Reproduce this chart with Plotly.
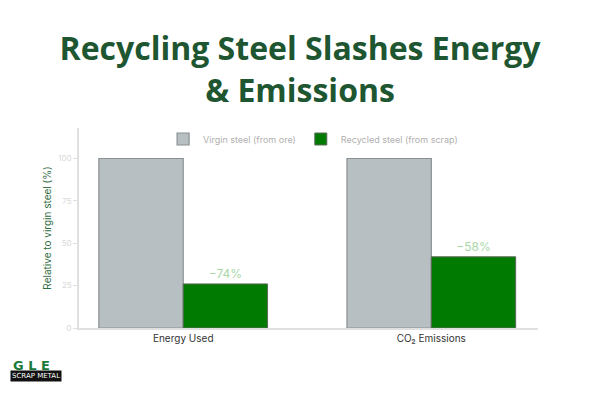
import plotly.graph_objects as go

categories = ["Energy Used", "CO₂ Emissions"]
virgin = [100, 100]
recycled = [26, 42]
recycled_labels = ["−74%", "−58%"]
y_ticks = [0, 25, 50, 75, 100]

fig = go.Figure()
fig.add_trace(go.Bar(
    x=categories, y=virgin, name="Virgin steel (from ore)",
    marker=dict(color="#b8bfc3", line=dict(color="#8a8f92", width=1.2)),
))
fig.add_trace(go.Bar(
    x=categories, y=recycled, name="Recycled steel (from scrap)",
    marker=dict(color="#007a00", line=dict(color="#5a6a5a", width=1)),
    text=recycled_labels, textposition="outside",
    textfont=dict(color="#a8d8a8", size=12, family="Inter"),
    cliponaxis=False,
))

fig.update_layout(
    width=600, height=400,
    paper_bgcolor="white", plot_bgcolor="white",
    margin=dict(l=79, r=62, t=128, b=72),
    barmode="group", bargap=0.32, bargroupgap=0,
    title=dict(
        text="<b>Recycling Steel Slashes Energy<br>& Emissions</b>",
        x=0.5, xanchor="center", y=0.85, yanchor="middle",
        font=dict(family="Open Sans", size=32, color="#1e5631"),
    ),
    legend=dict(
        orientation="h", x=0.51, xanchor="center", y=0.945, yanchor="middle",
        font=dict(family="Inter", size=9, color="#b0b0b0"),
        bgcolor="rgba(0,0,0,0)", itemwidth=30,
    ),
    showlegend=True,
    font=dict(family="Inter"),
)
fig.update_xaxes(
    type="category", range=[-0.42, 1.43],
    showline=True, linecolor="#e0e0e0", linewidth=1.5,
    ticks="", tickfont=dict(size=10, color="#333333", family="Inter"),
    showgrid=False,
)
fig.update_yaxes(
    range=[0, 118], tickvals=y_ticks,
    showline=True, linecolor="#e0e0e0", linewidth=1.5,
    ticks="outside", ticklen=4, tickcolor="#e0e0e0",
    tickfont=dict(size=8, color="#d8d8d8", family="Inter"),
    showgrid=False, zeroline=False,
    title=dict(text="Relative to virgin steel (%)", standoff=5,
               font=dict(size=10, color="#2e6b3e", family="Inter")),
)

# Logo
fig.add_annotation(
    text="<b>G L E</b>", xref="paper", yref="paper", x=-0.148, y=-0.185,
    xanchor="left", yanchor="middle", showarrow=False,
    font=dict(family="DejaVu Sans", size=13, color="#1a7a3a"),
)
fig.add_annotation(
    text="SCRAP METAL", xref="paper", yref="paper", x=-0.15, y=-0.24,
    xanchor="left", yanchor="middle", showarrow=False,
    bgcolor="#111111", borderpad=1,
    font=dict(family="DejaVu Sans", size=7, color="white"),
)

fig.write_html("out.html")
